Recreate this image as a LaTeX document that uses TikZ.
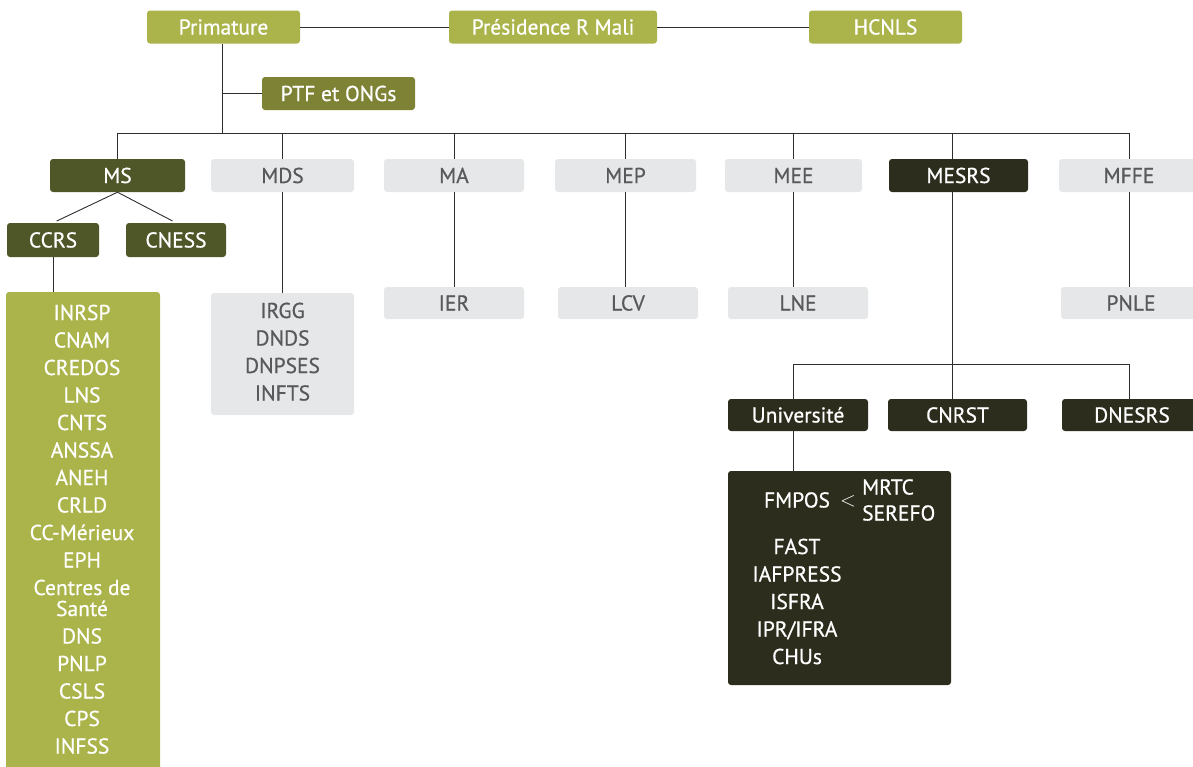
\documentclass[tikz,border=0pt]{standalone}
\usepackage{fontspec}
\setmainfont{PT Sans}[FakeBold=0.6]
\usetikzlibrary{calc}
\definecolor{lgreen}{HTML}{ABB44A}
\definecolor{olivec}{HTML}{7E8235}
\definecolor{dolive}{HTML}{4F5628}
\definecolor{darkc}{HTML}{2C2D1C}
\definecolor{lgray}{HTML}{E6E7E8}
\definecolor{gtext}{HTML}{58595B}
\definecolor{wirec}{HTML}{2E2E2E}
\newcommand{\chartfont}{\fontsize{21.5}{27.5}\selectfont}
\begin{document}
\begin{tikzpicture}[x=1pt,y=-1pt,
  box/.style={rounded corners=3pt, inner sep=0pt, minimum height=33pt,
              text height=15pt, text depth=0pt, font=\chartfont},
  gbox/.style={box, fill=lgreen, text=white},
  obox/.style={box, fill=olivec, text=white},
  mbox/.style={box, fill=dolive, text=white},
  kbox/.style={box, fill=darkc, text=white},
  lbox/.style={box, fill=lgray, text=gtext},
  panel/.style={rounded corners=3pt, inner sep=0pt},
  listtext/.style={align=center, inner sep=0pt, font=\chartfont},
  wire/.style={draw=wirec, line width=0.9pt}
]
\useasboundingbox (0,0) rectangle (1193,766);
\clip (0,0) rectangle (1193,766);

% top row
\node[gbox, minimum width=153pt] (prim) at (223.5,27) {Primature};
\node[gbox, minimum width=208pt] (pres) at (553,27) {Présidence R Mali};
\node[gbox, minimum width=153pt] (hcnls) at (885.5,27) {HCNLS};
\node[obox, minimum width=153pt] (ptf) at (338.5,93.5) {PTF et ONGs};

% ministries
\node[mbox, minimum width=135pt] (ms) at (117.5,175.5) {MS};
\node[lbox, minimum width=143pt] (mds) at (282.5,175.5) {MDS};
\node[lbox, minimum width=140pt] (ma) at (454,175.5) {MA};
\node[lbox, minimum width=141pt] (mep) at (625.5,175.5) {MEP};
\node[lbox, minimum width=137pt] (mee) at (793.5,175.5) {MEE};
\node[kbox, minimum width=139pt] (mesrs) at (958.5,175.5) {MESRS};
\node[lbox, minimum width=140pt] (mffe) at (1129,175.5) {MFFE};

% MS children
\node[mbox, minimum width=92pt, minimum height=34pt] (ccrs) at (53,240) {CCRS};
\node[mbox, minimum width=100pt, minimum height=34pt] (cness) at (176,240) {CNESS};

% MS list
\node[panel, fill=lgreen, minimum width=154pt, minimum height=480pt] (msl) at (83,532) {};
\node[listtext, text=white, anchor=north] (mslt) at (82,304.5)
  {INRSP\\CNAM\\CREDOS\\LNS\\CNTS\\ANSSA\\ANEH\\CRLD\\CC-Mérieux\\EPH\\Centres de\\[-6.5pt]Santé\\DNS\\PNLP\\CSLS\\CPS\\INFSS};

% MDS list
\node[panel, fill=lgray, minimum width=143pt, minimum height=122pt] (mdsl) at (282.5,354) {};
\node[listtext, text=gtext, anchor=north] (mdslt) at (282.5,302.5)
  {IRGG\\DNDS\\DNPSES\\INFTS};

% second-level single boxes
\node[lbox, minimum width=140pt, minimum height=32pt] (ier) at (454,303) {IER};
\node[lbox, minimum width=140pt, minimum height=32pt] (lcv) at (628,303) {LCV};
\node[lbox, minimum width=140pt, minimum height=32pt] (lne) at (798,303) {LNE};
\node[lbox, minimum width=140pt, minimum height=32pt] (pnle) at (1131,303) {PNLE};

% MESRS children
\node[kbox, minimum width=140pt, minimum height=32pt] (univ) at (798,415) {Université};
\node[kbox, minimum width=139pt, minimum height=32pt] (cnrst) at (957.5,415) {CNRST};
\node[kbox, minimum width=140pt, minimum height=32pt] (dnesrs) at (1132,415) {DNESRS};

% university panel
\node[panel, fill=darkc, minimum width=223pt, minimum height=214pt] (big) at (839.5,578) {};
\node[text=white, inner sep=0pt, text height=15pt, text depth=0pt, font=\chartfont] (fmpos) at (797,500) {FMPOS};
\node[text=white, inner sep=0pt, font=\chartfont] (lt) at (848,501) {$<$};
\node[text=white, inner sep=0pt, align=left, anchor=west, font=\fontsize{21.5}{26}\selectfont] (mrtc) at (862,500) {MRTC\\SEREFO};
\node[listtext, text=white, anchor=north] (ulist) at (797,538.5)
  {FAST\\IAFPRESS\\ISFRA\\IPR/IFRA\\CHUs};

% connectors
\draw[wire] (prim.east) -- (pres.west);
\draw[wire] (pres.east) -- (hcnls.west);
\coordinate (bus) at (222,133);
\draw[wire] (prim.south -| bus) -- (bus);
\draw[wire] (ptf.west) -- (ptf.west -| bus);
\draw[wire] (ms.north) -- (ms.north |- bus) -- (mffe.north |- bus) -- (mffe.north);
\draw[wire] (mds.north |- bus) -- (mds.north);
\draw[wire] (ma.north |- bus) -- (ma.north);
\draw[wire] (mep.north |- bus) -- (mep.north);
\draw[wire] (mee.north |- bus) -- (mee.north);
\coordinate (mesrsx) at ($(mesrs.south)+(-6.5,0)$);
\draw[wire] (mesrsx |- bus) -- (mesrsx |- mesrs.north);

\draw[wire, shorten >=4pt] (ms.south) -- (ccrs.north);
\draw[wire, shorten >=4pt] (ms.south) -- (cness.north);
\draw[wire] (ccrs.south) -- (ccrs.south |- msl.north);
\draw[wire] (mds.south) -- (mds.south |- mdsl.north);
\draw[wire] (ma.south) -- (ma.south |- ier.north);
\draw[wire] (mep.south) -- (mep.south |- lcv.north);
\draw[wire] (mee.south) -- (mee.south |- lne.north);
\draw[wire] (mffe.south) -- (mffe.south |- pnle.north);

\draw[wire] (mesrsx) -- (mesrsx |- cnrst.north);
\coordinate (sb) at (952,364);
\coordinate (ud) at ($(univ.north)+(-5,0)$);
\coordinate (dd) at (mffe.south |- dnesrs.north);
\draw[wire] (ud) -- (ud |- sb) -- (dd |- sb) -- (dd);
\draw[wire] (ud |- univ.south) -- (ud |- big.north);
\end{tikzpicture}
\end{document}
